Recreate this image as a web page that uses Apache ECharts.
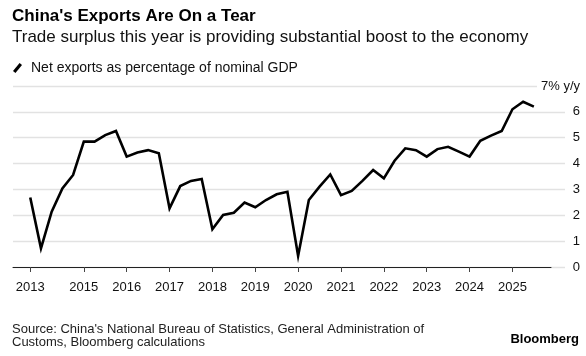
<!DOCTYPE html>
<html>
<head>
<meta charset="utf-8">
<script src="https://cdn.jsdelivr.net/npm/echarts@6/dist/echarts.min.js"></script>
<style>
html,body{margin:0;padding:0;background:#fff;}
#chart{width:586px;height:356px;}
</style>
</head>
<body>
<div id="chart"></div>
<script>
const quarters = [
  '2013Q4',
  '2014Q1','2014Q2','2014Q3','2014Q4',
  '2015Q1','2015Q2','2015Q3','2015Q4',
  '2016Q1','2016Q2','2016Q3','2016Q4',
  '2017Q1','2017Q2','2017Q3','2017Q4',
  '2018Q1','2018Q2','2018Q3','2018Q4',
  '2019Q1','2019Q2','2019Q3','2019Q4',
  '2020Q1','2020Q2','2020Q3','2020Q4',
  '2021Q1','2021Q2','2021Q3','2021Q4',
  '2022Q1','2022Q2','2022Q3','2022Q4',
  '2023Q1','2023Q2','2023Q3','2023Q4',
  '2024Q1','2024Q2','2024Q3','2024Q4',
  '2025Q1','2025Q2','2025Q3'
];
const netExports = [
  2.69,0.72,2.14,3.04,3.56,4.85,4.85,5.10,5.26,4.27,
  4.43,4.52,4.40,2.27,3.13,3.33,3.40,1.46,2.01,2.10,
  2.49,2.31,2.59,2.81,2.91,0.43,2.59,3.11,3.58,2.78,
  2.94,3.33,3.75,3.43,4.11,4.59,4.52,4.27,4.56,4.65,
  4.46,4.27,4.88,5.08,5.26,6.10,6.39,6.20
];
const tickQuarters = ['2013Q4','2015Q1','2016Q1','2017Q1','2018Q1','2019Q1','2020Q1','2021Q1','2022Q1','2023Q1','2024Q1','2025Q1'];
const tickLabels = ['2013','2015','2016','2017','2018','2019','2020','2021','2022','2023','2024','2025'];
const yTicks = [0,1,2,3,4,5,6,7];
const seriesName = 'Net exports as percentage of nominal GDP';

const FONT = "'Liberation Sans', Arial, Helvetica, sans-serif";
const tickIdx = tickQuarters.map(q => quarters.indexOf(q));
const chart = echarts.init(document.getElementById('chart'), null, {renderer: 'canvas'});

chart.setOption({
  animation: false,
  backgroundColor: '#fff',
  textStyle: {fontFamily: FONT},
  title: [
    {text: "China's Exports Are On a Tear", left: 7, top: 3,
     textStyle: {fontFamily: FONT, fontSize: 17, fontWeight: 'bold', color: '#000'}},
    {text: 'Trade surplus this year is providing substantial boost to the economy', left: 7, top: 24,
     textStyle: {fontFamily: FONT, fontSize: 17, fontWeight: 'normal', color: '#111'}},
    {text: "Source: China's National Bureau of Statistics, General Administration of\nCustoms, Bloomberg calculations",
     left: 7, top: 318,
     textStyle: {fontFamily: FONT, fontSize: 13, lineHeight: 13, fontWeight: 'normal', color: '#222'}},
    {text: 'Bloomberg', right: 2, top: 328,
     textStyle: {fontFamily: FONT, fontSize: 13, fontWeight: 'bold', color: '#000'}}
  ],
  legend: {
    left: 8, top: 56,
    selectedMode: false,
    itemWidth: 9, itemHeight: 11,
    textStyle: {fontFamily: FONT, fontSize: 14, color: '#111', padding: [0, 0, 0, 4]},
    data: [{name: seriesName, icon: 'path://M0,8.6 L7,0 L9.6,2.2 L2.6,10.8 Z'}]
  },
  grid: [
    {left: 13, right: 21, top: 86, bottom: 89},
    {left: 13, right: 35, top: 86, bottom: 89}
  ],
  xAxis: [
    {gridIndex: 0, type: 'value', min: 0, max: 1, show: false},
    {gridIndex: 1, type: 'value', min: -1.61, max: 48.6, z: 5,
     axisLine: {show: true, lineStyle: {color: '#222', width: 1}},
     axisTick: {show: true, length: 5, customValues: tickIdx, lineStyle: {color: '#444'}},
     axisLabel: {customValues: tickIdx, margin: 14, fontSize: 13, color: '#111', fontFamily: FONT,
       formatter: v => { const k = tickIdx.indexOf(Math.round(v)); return k >= 0 ? tickLabels[k] : ''; }},
     splitLine: {show: false}}
  ],
  yAxis: [
    {gridIndex: 0, type: 'value', position: 'right', min: 0, max: 7, interval: 1,
     axisLine: {show: false}, axisTick: {show: false},
     splitLine: {show: true, lineStyle: {color: '#e2e2e2', width: 1.3}},
     axisLabel: {margin: 15, align: 'right', fontSize: 13, color: '#111', fontFamily: FONT,
       formatter: v => yTicks.indexOf(v) === yTicks.length - 1 ? '{top|' + v + '% y/y}' : String(v),
       rich: {top: {fontSize: 13, color: '#111', fontFamily: FONT, backgroundColor: '#fff', padding: [2, 0, 2, 4]}}}},
    {gridIndex: 1, type: 'value', min: 0, max: 7, show: false}
  ],
  series: [{
    name: seriesName,
    type: 'line',
    xAxisIndex: 1, yAxisIndex: 1,
    showSymbol: false,
    clip: false,
    color: '#000',
    lineStyle: {color: '#000', width: 2.6, join: 'miter'},
    data: quarters.map((q, i) => [i, netExports[i]])
  }]
});
</script>
</body>
</html>
